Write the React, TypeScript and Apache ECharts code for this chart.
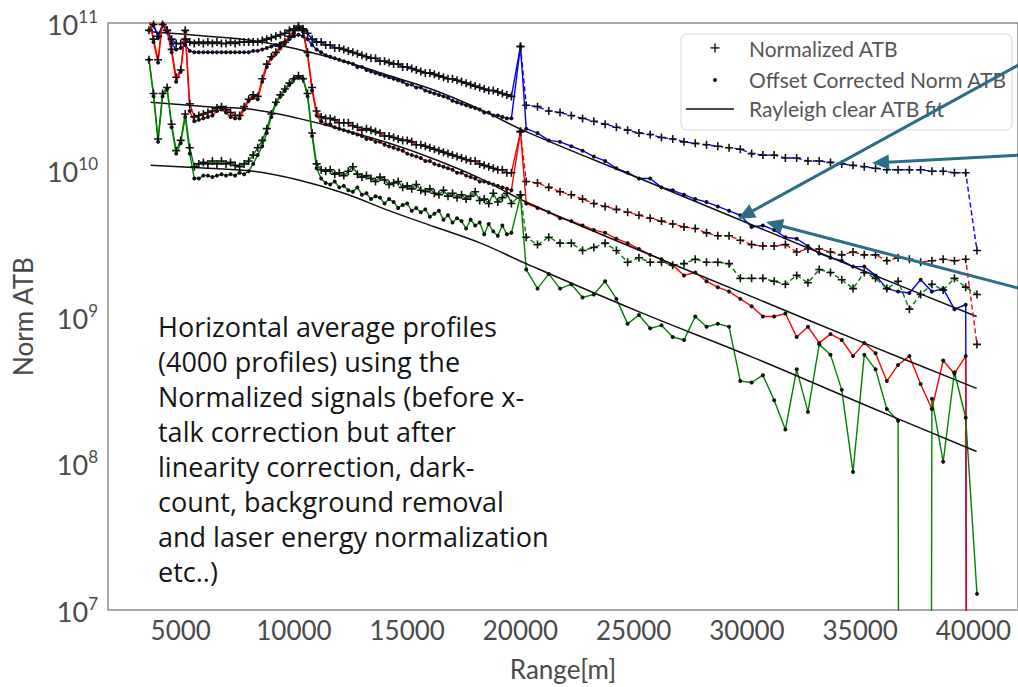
import React, { useEffect, useRef } from "react";
import * as echarts from "echarts";

// Range gates (m) of the horizontally averaged profiles
const denseRange = [
  3600, 3800, 4000, 4200, 4400, 4600, 4800, 5000, 5200, 5400,
  5600, 5800, 6000, 6200, 6400, 6600, 6800, 7000, 7200, 7400,
  7600, 7800, 8000, 8200, 8400, 8600, 8800, 9000, 9200, 9400,
  9600, 9800, 10000, 10200, 10400, 10600, 10800, 11000, 11200, 11400,
  11600, 11800, 12000, 12200, 12400, 12600, 12800, 13000, 13200, 13400,
  13600, 13800, 14000, 14200, 14400, 14600, 14800, 15000, 15200, 15400,
  15600, 15800, 16000, 16200, 16400, 16600, 16800, 17000, 17200, 17400,
  17600, 17800, 18000, 18200, 18400, 18600, 18800, 19000, 19200, 19400,
  19600,
];
const spikeRange = 20000;
const sparseRange = [
  20255, 20752, 21250, 21747, 22245, 22742, 23240, 23737, 24235, 24732,
  25230, 25727, 26225, 26722, 27220, 27717, 28215, 28712, 29210, 29707,
  30205, 30702, 31200, 31697, 32195, 32692, 33190, 33687, 34185, 34682,
  35180, 35677, 36175, 36672, 37170, 37667, 38165, 38662, 39160, 39657,
  40155,
];
const fitRange = [3670, 6180, 8190, 10200, 12210, 14220, 16230, 18240, 20250, 25270, 30290, 35320, 40140];

// Norm ATB values, stored as log10
const CLIPPED = -30; // non-positive samples: drawn far below the axis floor

const blueNormDense = [
  10.95, 10.99, 10.91, 10.99, 10.95, 10.89, 10.86, 10.86, 10.89, 10.87,
  10.86, 10.87, 10.86, 10.87, 10.86, 10.87, 10.86, 10.86, 10.87, 10.86,
  10.87, 10.87, 10.87, 10.87, 10.87, 10.88, 10.89, 10.9, 10.91, 10.92,
  10.93, 10.95, 10.96, 10.97, 10.96, 10.93, 10.89, 10.87, 10.87, 10.85,
  10.85, 10.83, 10.83, 10.82, 10.81, 10.8, 10.79, 10.78, 10.77, 10.76,
  10.76, 10.74, 10.74, 10.73, 10.72, 10.72, 10.7, 10.7, 10.69, 10.68,
  10.67, 10.66, 10.66, 10.65, 10.64, 10.63, 10.62, 10.62, 10.61, 10.6,
  10.59, 10.58, 10.57, 10.56, 10.55, 10.54, 10.54, 10.53, 10.52, 10.51,
  10.5,
];
const blueOffsetDense = [
  10.95, 10.99, 10.9, 10.99, 10.94, 10.86, 10.82, 10.83, 10.85, 10.81,
  10.8, 10.8, 10.8, 10.8, 10.8, 10.8, 10.8, 10.8, 10.8, 10.8,
  10.8, 10.8, 10.8, 10.81, 10.81, 10.82, 10.83, 10.84, 10.85, 10.86,
  10.87, 10.89, 10.91, 10.92, 10.91, 10.89, 10.85, 10.82, 10.8, 10.78,
  10.77, 10.76, 10.75, 10.74, 10.73, 10.72, 10.7, 10.7, 10.68, 10.67,
  10.66, 10.65, 10.64, 10.63, 10.62, 10.61, 10.6, 10.58, 10.58, 10.56,
  10.56, 10.54, 10.53, 10.52, 10.51, 10.5, 10.49, 10.47, 10.46, 10.45,
  10.44, 10.43, 10.42, 10.41, 10.39, 10.39, 10.37, 10.37, 10.36, 10.35,
  10.35,
];
const blueSpike = 10.84;
const blueNormSparse = [
  10.44, 10.43, 10.4, 10.39, 10.37, 10.35, 10.33, 10.31, 10.29, 10.27,
  10.25, 10.24, 10.22, 10.21, 10.19, 10.18, 10.17, 10.16, 10.15, 10.14,
  10.11, 10.1, 10.1, 10.08, 10.08, 10.06, 10.06, 10.05, 10.04, 10.03,
  10.02, 10.01, 10.0, 10.0, 10.0, 10.0, 9.99, 9.99, 9.98, 9.98,
  9.45,
];
const blueOffsetSparse = [
  10.28, 10.25, 10.2, 10.19, 10.16, 10.13, 10.09, 10.06, 10.01, 9.98,
  9.94, 9.94, 9.88, 9.86, 9.83, 9.8, 9.78, 9.75, 9.72, 9.69,
  9.61, 9.62, 9.59, 9.54, 9.53, 9.48, 9.43, 9.4, 9.38, 9.34,
  9.34, 9.28, 9.19, 9.17, 9.16, 9.25, 9.17, 9.19, 9.05, 9.08,
  CLIPPED,
];

const redNormDense = [
  11.05, 10.89, 10.75, 11.02, 10.95, 10.82, 10.63, 10.68, 10.95, 10.45,
  10.36, 10.37, 10.38, 10.39, 10.4, 10.42, 10.43, 10.41, 10.39, 10.37,
  10.37, 10.43, 10.48, 10.51, 10.5, 10.62, 10.72, 10.77, 10.8, 10.84,
  10.87, 10.91, 10.95, 10.98, 10.95, 10.8, 10.56, 10.4, 10.36, 10.35,
  10.35, 10.34, 10.32, 10.32, 10.32, 10.3, 10.29, 10.27, 10.28, 10.27,
  10.26, 10.25, 10.23, 10.23, 10.22, 10.21, 10.2, 10.2, 10.19, 10.17,
  10.17, 10.16, 10.15, 10.14, 10.13, 10.12, 10.11, 10.1, 10.09, 10.08,
  10.07, 10.06, 10.06, 10.04, 10.03, 10.02, 10.01, 10.0, 10.0, 9.98,
  9.98,
];
const redOffsetDense = [
  11.05, 10.87, 10.73, 11.01, 10.94, 10.8, 10.6, 10.67, 10.94, 10.4,
  10.33, 10.34, 10.35, 10.36, 10.37, 10.4, 10.41, 10.39, 10.36, 10.35,
  10.35, 10.41, 10.47, 10.49, 10.48, 10.6, 10.7, 10.76, 10.79, 10.83,
  10.86, 10.9, 10.93, 10.97, 10.94, 10.78, 10.54, 10.37, 10.33, 10.31,
  10.31, 10.29, 10.28, 10.27, 10.26, 10.25, 10.24, 10.23, 10.21, 10.21,
  10.19, 10.19, 10.17, 10.16, 10.15, 10.14, 10.13, 10.11, 10.1, 10.09,
  10.08, 10.06, 10.06, 10.04, 10.03, 10.02, 10.01, 10.0, 9.98, 9.98,
  9.96, 9.95, 9.94, 9.92, 9.92, 9.91, 9.9, 9.89, 9.88, 9.87,
  9.86,
];
const redSpike = 10.26;
const redNormSparse = [
  9.92, 9.91, 9.88, 9.85, 9.83, 9.8, 9.77, 9.75, 9.73, 9.71,
  9.69, 9.67, 9.65, 9.63, 9.61, 9.6, 9.57, 9.55, 9.55, 9.52,
  9.49, 9.48, 9.48, 9.49, 9.44, 9.46, 9.46, 9.44, 9.42, 9.44,
  9.42, 9.42, 9.38, 9.4, 9.39, 9.37, 9.38, 9.39, 9.38, 9.39,
  8.81,
];
const redOffsetSparse = [
  9.77, 9.74, 9.71, 9.67, 9.65, 9.62, 9.59, 9.57, 9.53, 9.5,
  9.46, 9.42, 9.39, 9.35, 9.28, 9.3, 9.24, 9.2, 9.17, 9.12,
  9.07, 9.0, 9.0, 9.02, 8.86, 8.93, 8.82, 8.88, 8.84, 8.73,
  8.82, 8.75, 8.56, 8.67, 8.73, 8.54, 8.37, 8.7, 8.61, 8.73,
  CLIPPED,
];

const greenNormDense = [
  10.75, 10.52, 10.21, 10.52, 10.56, 10.31, 10.13, 10.2, 10.38, 10.15,
  10.02, 10.04, 10.05, 10.04, 10.06, 10.04, 10.06, 10.04, 10.05, 10.03,
  10.02, 10.04, 10.06, 10.1, 10.15, 10.2, 10.28, 10.38, 10.46, 10.51,
  10.55, 10.59, 10.62, 10.64, 10.62, 10.52, 10.25, 10.04, 10.0, 9.99,
  10.0, 9.97, 9.98, 9.96, 9.99, 10.02, 9.97, 9.95, 9.96, 9.94,
  9.92, 9.95, 9.93, 9.9, 9.91, 9.92, 9.88, 9.89, 9.87, 9.9,
  9.86, 9.85, 9.87, 9.84, 9.83, 9.86, 9.82, 9.84, 9.81, 9.83,
  9.8, 9.82, 9.85, 9.79, 9.8, 9.77, 9.84, 9.78, 9.81, 9.84,
  9.77,
];
const greenOffsetDense = [
  10.75, 10.5, 10.19, 10.5, 10.55, 10.29, 10.11, 10.18, 10.36, 10.11,
  9.94, 9.94, 9.96, 9.96, 9.95, 9.96, 9.97, 9.96, 9.97, 9.96,
  9.98, 9.97, 9.99, 10.04, 10.1, 10.16, 10.25, 10.36, 10.45, 10.5,
  10.54, 10.58, 10.62, 10.63, 10.62, 10.5, 10.23, 10.01, 9.94, 9.91,
  9.9, 9.92, 9.88, 9.89, 9.86, 9.85, 9.88, 9.83, 9.84, 9.8,
  9.82, 9.81, 9.77, 9.8, 9.78, 9.74, 9.76, 9.77, 9.72, 9.74,
  9.71, 9.73, 9.68, 9.7, 9.72, 9.66, 9.69, 9.64, 9.67, 9.65,
  9.6, 9.66, 9.62, 9.64, 9.56, 9.63, 9.58, 9.55, 9.62, 9.56,
  9.57,
];
const greenNormSpike = 9.83;
const greenOffsetSpike = 9.82;
const greenNormSparse = [
  9.54, 9.49, 9.54, 9.5, 9.5, 9.45, 9.47, 9.5, 9.45, 9.37,
  9.4, 9.37, 9.37, 9.35, 9.36, 9.39, 9.37, 9.37, 9.36, 9.26,
  9.26, 9.26, 9.24, 9.22, 9.28, 9.23, 9.32, 9.3, 9.25, 9.19,
  9.3, 9.26, 9.19, 9.24, 9.05, 9.15, 9.22, 9.18, 9.26, 9.2,
  9.15,
];
const greenOffsetSparse = [
  9.32, 9.19, 9.29, 9.19, 9.22, 9.13, 9.15, 9.24, 9.12, 8.95,
  9.01, 8.92, 8.94, 8.86, 8.84, 9.0, 8.93, 8.95, 8.93, 8.56,
  8.55, 8.6, 8.43, 8.23, 8.64, 8.35, 8.81, 8.74, 8.5, 7.94,
  8.74, 8.64, 8.37, 8.29, CLIPPED, CLIPPED, 8.44, 8.01, 8.62, 8.31,
  7.11,
];

// Rayleigh clear-air ATB fits (log10)
const blueFit = [10.94, 10.91, 10.88, 10.82, 10.74, 10.64, 10.54, 10.41, 10.26, 9.94, 9.62, 9.3, 9.0];
const redFit = [10.46, 10.43, 10.41, 10.35, 10.27, 10.18, 10.07, 9.94, 9.78, 9.45, 9.13, 8.81, 8.51];
const greenFit = [10.03, 10.01, 9.99, 9.93, 9.84, 9.72, 9.61, 9.5, 9.36, 9.03, 8.72, 8.39, 8.08];

const xTicks = [5000, 10000, 15000, 20000, 25000, 30000, 35000, 40000];

const AXIS_FONT = "Lato, 'Open Sans', sans-serif";
const AXIS_COLOR = "#4a4a4a";
const PLUS_SYMBOL = "path://M4 0h2v4h4v2H6v4H4V6H0V4h4z";
const MARK_COLOR = "#111111";
const ARROW_COLOR = "#2a6f87";

const pow10 = (v: number) => Math.pow(10, v);
const toPairs = (xs: number[], logs: number[]) => xs.map((x, i) => [x, pow10(logs[i])]);

function channel(
  color: string,
  normDense: number[],
  normSpike: number,
  normSparse: number[],
  offDense: number[],
  offSpike: number,
  offSparse: number[],
  fit: number[]
) {
  const normSolid = [...toPairs(denseRange, normDense), [spikeRange, pow10(normSpike)]];
  const normDashed = [[spikeRange, pow10(normSpike)], ...toPairs(sparseRange, normSparse)];
  const offset = [
    ...toPairs(denseRange, offDense),
    [spikeRange, pow10(offSpike)],
    ...toPairs(sparseRange, offSparse),
  ];
  return [
    {
      type: "line",
      data: normSolid,
      symbol: PLUS_SYMBOL,
      symbolSize: 8,
      itemStyle: { color: MARK_COLOR },
      lineStyle: { color, width: 1.4 },
      silent: true,
    },
    {
      type: "line",
      data: normDashed,
      symbol: PLUS_SYMBOL,
      symbolSize: 8,
      itemStyle: { color: MARK_COLOR },
      lineStyle: { color, width: 1.4, type: [5, 3] },
      silent: true,
    },
    {
      type: "line",
      data: offset,
      symbol: "circle",
      symbolSize: 4,
      itemStyle: { color: MARK_COLOR },
      lineStyle: { color, width: 1.4 },
      silent: true,
    },
    {
      type: "line",
      data: toPairs(fitRange, fit),
      smooth: 0.4,
      showSymbol: false,
      lineStyle: { color: "#111111", width: 1.5 },
      silent: true,
    },
  ];
}

function arrow(x1: number, y1: number, x2: number, y2: number) {
  const dx = x2 - x1;
  const dy = y2 - y1;
  const len = Math.sqrt(dx * dx + dy * dy);
  const ux = dx / len;
  const uy = dy / len;
  const headLen = 17;
  const headHalf = 7.5;
  const bx = x2 - ux * headLen;
  const by = y2 - uy * headLen;
  return [
    {
      type: "line",
      shape: { x1, y1, x2: bx + ux * 2, y2: by + uy * 2 },
      style: { stroke: ARROW_COLOR, lineWidth: 3 },
      z: 30,
    },
    {
      type: "polygon",
      shape: {
        points: [
          [x2, y2],
          [bx - uy * headHalf, by + ux * headHalf],
          [bx + uy * headHalf, by - ux * headHalf],
        ],
      },
      style: { fill: ARROW_COLOR },
      z: 30,
    },
  ];
}

const noteText = [
  "Horizontal average profiles",
  "(4000 profiles) using the",
  "Normalized signals (before x-",
  "talk correction but after",
  "linearity correction, dark-",
  "count, background removal",
  "and laser energy normalization",
  "etc..)",
].join("\n");

const legendFont = "Lato, 'Open Sans', sans-serif";

const option = {
  animation: false,
  backgroundColor: "#ffffff",
  grid: {
    left: 108,
    right: -4,
    top: 23,
    bottom: 70,
    show: true,
    borderColor: "#8c8c8c",
    borderWidth: 1.5,
  },
  xAxis: {
    type: "value",
    min: 1790,
    max: 41966,
    axisLine: { show: false },
    axisTick: { show: false },
    splitLine: { show: false },
    axisLabel: {
      customValues: xTicks,
      formatter: (v: number) => String(v),
      fontFamily: AXIS_FONT,
      fontSize: 26,
      color: AXIS_COLOR,
      margin: 7,
    },
    name: "Range[m]",
    nameLocation: "middle",
    nameGap: 46,
    nameTextStyle: { fontFamily: AXIS_FONT, fontSize: 26, color: AXIS_COLOR },
  },
  yAxis: {
    type: "log",
    logBase: 10,
    min: 1e7,
    max: 1e11,
    axisLine: { show: false },
    axisTick: { show: false },
    splitLine: { show: false },
    minorTick: { show: false },
    axisLabel: {
      formatter: (v: number) => `{b|10}{s|${Math.round(Math.log10(v))}}`,
      margin: 10,
      rich: {
        b: { fontFamily: AXIS_FONT, fontSize: 27, color: AXIS_COLOR, padding: [3, 0, 0, 0] },
        s: { fontFamily: AXIS_FONT, fontSize: 17, color: AXIS_COLOR, verticalAlign: "top" },
      },
    },
    name: "Norm ATB",
    nameLocation: "middle",
    nameGap: 53,
    nameRotate: 90,
    nameTextStyle: { fontFamily: AXIS_FONT, fontSize: 26, color: AXIS_COLOR },
  },
  series: [
    ...channel("#0000ff", blueNormDense, blueSpike, blueNormSparse, blueOffsetDense, blueSpike, blueOffsetSparse, blueFit),
    ...channel("#ff0000", redNormDense, redSpike, redNormSparse, redOffsetDense, redSpike, redOffsetSparse, redFit),
    ...channel(
      "#008000",
      greenNormDense,
      greenNormSpike,
      greenNormSparse,
      greenOffsetDense,
      greenOffsetSpike,
      greenOffsetSparse,
      greenFit
    ),
  ],
  graphic: [
    // legend box
    {
      type: "rect",
      shape: { x: 681, y: 34, width: 331, height: 96, r: 6 },
      style: { fill: "rgba(255,255,255,0.9)", stroke: "#d6d6d6", lineWidth: 1 },
      z: 20,
    },
    { type: "rect", shape: { x: 710.5, y: 47.2, width: 9, height: 1.4 }, style: { fill: MARK_COLOR }, z: 21 },
    { type: "rect", shape: { x: 714.3, y: 43.4, width: 1.4, height: 9 }, style: { fill: MARK_COLOR }, z: 21 },
    { type: "circle", shape: { cx: 715, cy: 80, r: 2 }, style: { fill: MARK_COLOR }, z: 21 },
    {
      type: "line",
      shape: { x1: 686, y1: 109, x2: 734, y2: 109 },
      style: { stroke: "#111111", lineWidth: 1.5 },
      z: 21,
    },
    {
      type: "text",
      x: 749,
      y: 48,
      style: { text: "Normalized ATB", fontFamily: legendFont, fontSize: 21, fill: "#555555", verticalAlign: "middle" },
      z: 21,
    },
    {
      type: "text",
      x: 749,
      y: 79,
      style: {
        text: "Offset Corrected Norm ATB",
        fontFamily: legendFont,
        fontSize: 21,
        fill: "#555555",
        verticalAlign: "middle",
      },
      z: 21,
    },
    {
      type: "text",
      x: 749,
      y: 108,
      style: {
        text: "Rayleigh clear ATB fit",
        fontFamily: legendFont,
        fontSize: 21,
        fill: "#555555",
        verticalAlign: "middle",
      },
      z: 21,
    },
    // processing note
    {
      type: "text",
      x: 158,
      y: 309,
      style: {
        text: noteText,
        fontFamily: "'Open Sans', 'Noto Sans', sans-serif",
        fontSize: 27,
        lineHeight: 35,
        fill: "#151515",
        verticalAlign: "top",
      },
      z: 25,
    },
    // call-out arrows
    ...arrow(1022, 63, 738, 219),
    ...arrow(1022, 155, 872, 163),
    ...arrow(1022, 289, 766, 222),
  ],
};

export default function App() {
  const ref = useRef<HTMLDivElement>(null);
  useEffect(() => {
    if (!ref.current) return;
    const chart = echarts.init(ref.current, undefined, { renderer: "svg" });
    chart.setOption(option as any);
    return () => chart.dispose();
  }, []);
  return (
    <div
      ref={ref}
      style={{ position: "fixed", left: 0, top: 0, width: 1018, height: 687, background: "#fff" }}
    />
  );
}
